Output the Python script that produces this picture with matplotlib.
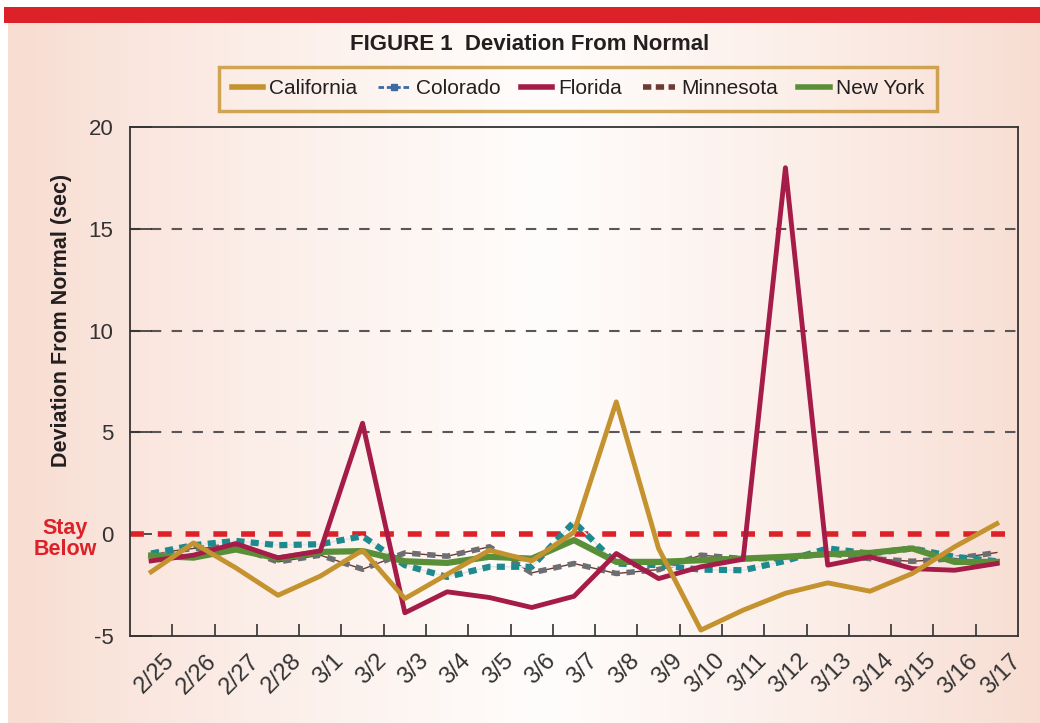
import numpy as np
import matplotlib
matplotlib.use("Agg")
import matplotlib.pyplot as plt
from matplotlib.lines import Line2D
from matplotlib.transforms import ScaledTranslation

dates = ["2/25", "2/26", "2/27", "2/28", "3/1", "3/2", "3/3", "3/4", "3/5", "3/6", "3/7",
         "3/8", "3/9", "3/10", "3/11", "3/12", "3/13", "3/14", "3/15", "3/16", "3/17"]

california = [-1.85, -0.43, -1.65, -3.0, -2.06, -0.79, -3.16, -1.97, -0.79, -1.31, 0.1,
              6.5, -0.7, -4.71, -3.73, -2.9, -2.39, -2.8, -1.93, -0.62, 0.52]
colorado = [-0.95, -0.54, -0.33, -0.54, -0.49, -0.1, -1.52, -2.1, -1.6, -1.6, 0.6,
            -1.44, -1.52, -1.74, -1.77, -1.31, -0.7, -0.95, -0.7, -1.11, -1.33]
florida = [-1.31, -1.03, -0.46, -1.16, -0.82, 5.45, -3.86, -2.83, -3.11, -3.6, -3.05,
           -0.95, -2.18, -1.6, -1.23, 18.0, -1.52, -1.11, -1.69, -1.77, -1.44]
minnesota = [-0.95, -0.7, -0.6, -1.36, -1.03, -1.72, -0.92, -1.08, -0.62, -1.9, -1.44,
             -1.93, -1.74, -1.03, -1.2, -1.2, -0.95, -1.2, -1.33, -1.2, -0.9]
new_york = [-1.05, -1.15, -0.75, -1.19, -0.87, -0.83, -1.33, -1.41, -1.11, -1.2, -0.29,
            -1.36, -1.36, -1.28, -1.2, -1.11, -0.98, -0.92, -0.7, -1.36, -1.36]

C_CAL = "#c4922e"
C_COL = "#1f8a8e"
C_FLA = "#a51c48"
C_MIN = "#6d6e71"
C_NY = "#5a8f3a"
C_RED = "#dc2128"
FONT = "Liberation Sans"

W, H = 1040, 723
fig = plt.figure(figsize=(W / 100, H / 100), dpi=100)

# background: horizontal salmon -> white -> salmon gradient
bg = fig.add_axes([8 / W, 0, 1 - 8 / W, 1 - 23 / H], zorder=-10)
xs = np.linspace(0, 1, 400)
t = np.clip(1 - np.abs(xs - 0.52) / 0.5, 0, 1)
left = np.array([248, 221, 210]) / 255
right = np.array([247, 218, 206]) / 255
white = np.array([255, 253, 252]) / 255
edge = np.where(xs[:, None] < 0.52, left, right)
grad = edge + (white - edge) * t[:, None] ** 0.8
bg.imshow(grad[None, :, :], aspect="auto", extent=[0, 1, 0, 1])
bg.axis("off")

# red bar at top
bar = fig.add_axes([4 / W, 1 - 23 / H, 1 - 4 / W, 16 / H], zorder=-9)
bar.set_facecolor(C_RED)
bar.set_xticks([])
bar.set_yticks([])
for s in bar.spines.values():
    s.set_visible(False)

ax = fig.add_axes([130 / W, 1 - 636 / H, 888 / W, 509 / H])
ax.set_facecolor("none")
x = np.arange(len(dates))

for v in [5, 10, 15]:
    ax.axhline(v, color="#5a5556", lw=1.5, dashes=(5, 5), zorder=1)
ax.axhline(0, color=C_RED, lw=4, dashes=(2.5, 2.5), zorder=2)

ax.plot(x, minnesota, color="#6b3a32", lw=1, zorder=3)
ax.plot(x, minnesota, color=C_MIN, lw=4, dashes=(1.5, 1.2), zorder=3)
ax.plot(x, colorado, color="#e6e6e6", lw=1.2, zorder=3)
ax.plot(x, colorado, color=C_COL, lw=4.5, dashes=(1.3, 1.0), zorder=4)
ax.plot(x, new_york, color=C_NY, lw=4.5, zorder=4)
ax.plot(x, florida, color=C_FLA, lw=3.5, zorder=5)
ax.plot(x, california, color=C_CAL, lw=3.5, zorder=6)

ax.set_xlim(-0.5, len(dates) - 0.5)
ax.set_ylim(-5, 20)
ax.set_yticks([-5, 0, 5, 10, 15, 20])
ax.set_yticklabels(["-5", "0", "5", "10", "15", "20"], family=FONT,
                   fontsize=16, color="#333333")
ax.tick_params(axis="y", direction="in", length=16, width=1.2, color="#333333", pad=12)

ax.set_xticks(x)
ax.set_xticklabels(dates, rotation=45, ha="right", rotation_mode="anchor",
                   family=FONT, fontsize=17, color="#333333")
ax.tick_params(axis="x", length=0, pad=10)
offset = ScaledTranslation(9 / 72, 0, fig.dpi_scale_trans)
for lab in ax.get_xticklabels():
    lab.set_transform(lab.get_transform() + offset)
ax.set_xticks(np.arange(0.5, len(dates) - 1, 1), minor=True)
ax.tick_params(axis="x", which="minor", direction="in", length=9, width=1.2, color="#333333")

for s in ax.spines.values():
    s.set_color("#333333")
    s.set_linewidth(1.3)

fig.text(530 / W, 1 - 45 / H, "FIGURE 1  Deviation From Normal", ha="center", va="center",
         fontsize=16, fontweight="bold", color="#231f20", family=FONT)

fig.text(62 / W, 1 - 320 / H, "Deviation From Normal (sec)", rotation=90, ha="center",
         va="center", fontsize=15.5, fontweight="bold", color="#231f20", family=FONT)

fig.text(65 / W, 1 - 539 / H, "Stay\nBelow", ha="center", va="center", fontsize=15.5,
         fontweight="bold", color=C_RED, family=FONT, linespacing=1.05)

handles = [
    Line2D([], [], color=C_CAL, lw=4),
    Line2D([], [], color="#3d6aa0", lw=2, marker="s", markersize=5, markevery=[1, 2],
           dashes=(2, 1)),
    Line2D([], [], color=C_FLA, lw=4),
    Line2D([], [], color="#6e3a34", lw=4, dashes=(1.5, 0.8)),
    Line2D([], [], color=C_NY, lw=4),
]
labels = ["California", "Colorado", "Florida", "Minnesota", "New York"]
leg = fig.legend(handles, labels, loc="center", bbox_to_anchor=(578 / W, 1 - 89 / H),
                 ncol=5, frameon=True, fancybox=False, handlelength=1.5,
                 handletextpad=0.3, columnspacing=1.0, borderpad=0.6,
                 prop={"family": FONT, "size": 15})
leg.get_frame().set_edgecolor(C_CAL)
leg.get_frame().set_linewidth(2.5)
leg.get_frame().set_facecolor("none")
for t_ in leg.get_texts():
    t_.set_color("#231f20")

fig.savefig("out.png", dpi=100)
